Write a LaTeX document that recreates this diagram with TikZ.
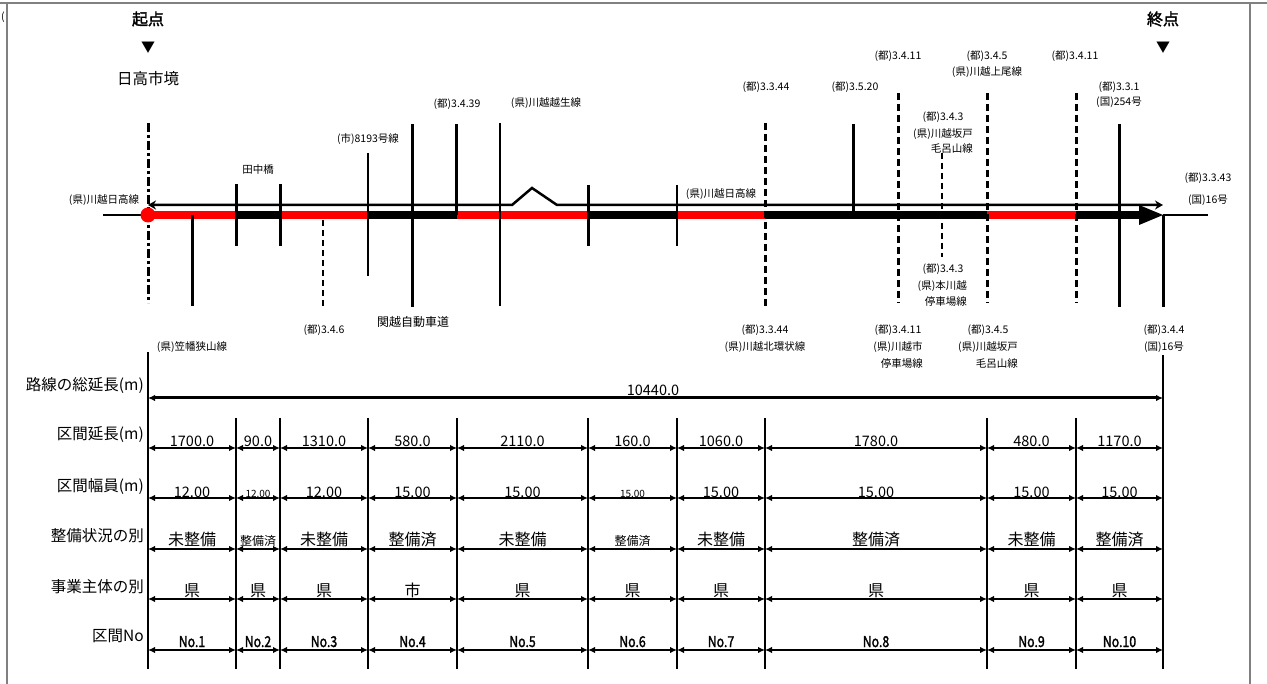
\documentclass[tikz,border=0pt]{standalone}
\usepackage{fontspec}
\usepackage{graphicx}
\setmainfont{Noto Sans CJK JP}[AutoFakeBold=2]
\usetikzlibrary{positioning, calc, arrows.meta}
\newcommand\smallnum{\fontsize{10}{12}\selectfont}
\newcommand\smallword{\fontsize{12}{14}\selectfont}
\newcommand\secno[1]{\scalebox{0.82}[1]{#1}}
\tikzset{
  > = {Latex[length = 7pt, width = 6.5pt]},
  framebox/.style = {draw = gray, line width = 1.2pt},
  lbl/.style = {inner sep = 0pt, font = \fontsize{10.5}{12}\selectfont},
  bigname/.style = {lbl, font = \fontsize{12}{14}\selectfont},
  head/.style = {inner sep = 0pt, font = \fontsize{15.5}{18}\selectfont},
  headbold/.style = {inner sep = 0pt, font = \bfseries\fontsize{16}{18}\selectfont},
  tri/.style = {inner sep = 0pt, font = \fontsize{14}{16}\selectfont},
  rowname/.style = {inner sep = 0pt, anchor = base east, font = \fontsize{15.5}{18}\selectfont},
  val/.style = {inner sep = 0pt, anchor = base, font = \fontsize{14.5}{16}\selectfont},
  word/.style = {val, font = \fontsize{16}{18}\selectfont},
  secnum/.style = {val, font = \bfseries\fontsize{15}{17}\selectfont},
  thinroad/.style = {line width = 2.5pt, {Stealth[length = 8pt, width = 9pt]}-{Stealth[length = 8pt, width = 9pt]}},
  bar/.style = {line width = 8pt},
  stub/.style = {line width = 1.5pt},
  road/.style = {line width = 3pt},
  minor/.style = {line width = 2pt},
  plan/.style = {line width = 3pt, dash pattern = on 7pt off 4pt},
  planminor/.style = {line width = 2pt, dash pattern = on 6pt off 4pt},
  edgeline/.style = {line width = 3pt, dash pattern = on 9pt off 3pt on 3pt off 3pt},
  sectline/.style = {line width = 2.5pt},
  dimline/.style = {<->, line width = 2pt},
  dimtot/.style = {<->, line width = 3pt}
}

\begin{document}
\begin{tikzpicture}[x = 1pt, y = -1pt]

%% Frame
\useasboundingbox (0,0) rectangle (1267,684);
\draw [framebox] (0,3) -- (1267,3);
\draw [framebox] (7,3) -- (7,684);
\draw [framebox] (1250,3) -- (1250,684);
\node [lbl] (paren) at (3,17) {(};

%% Start and end
\node [headbold] (start) at (148,19) {起点};
\node [tri] (startmk) at (148,48) {▼};
\node [head] (startname) at (148,79) {日高市境};
\node [headbold] (goal) at (1163,19) {終点};
\node [tri] (goalmk) at (1163,48) {▼};

%% Section boundaries
\foreach \x [count = \i from 0] in {148,236,280,368,457,588,677,765,987,1076,1163}
  \coordinate (b\i) at (\x,0);
\coordinate (ya) at (0,205);
\coordinate (yb) at (0,215);

%% Road bar
\foreach \i/\j/\c in {0/1/red, 1/2/black, 2/3/red, 3/4/black, 4/5/red,
                      5/6/black, 6/7/red, 7/8/black, 8/9/red}
  \draw [bar, \c] (b\i |- yb) -- (b\j |- yb);
\coordinate (hd) at (1139,215);
\draw [bar] (b9 |- yb) -- (hd);
\fill ($(hd)+(0,-10)$) -- (b10 |- yb) -- ($(hd)+(0,10)$) -- cycle;

%% Outer ends
\coordinate (wend) at (103,215);
\coordinate (eend) at (1208,215);
\draw [stub] (wend) -- (b0 |- yb);
\draw [stub] (b10 |- yb) -- (eend);

%% Upper line with hump
\coordinate (h1) at (512,205);
\coordinate (h2) at (532,188);
\coordinate (h3) at (557,205);
\draw [thinroad] (b0 |- ya) -- (h1) -- (h2) -- (h3) -- (b10 |- ya);

%% Crossing roads
\foreach \x/\t/\b/\s [count = \i] in {
    148/123/303/edgeline, 192/215/306/road, 236/184/246/road, 280/184/246/road,
    323/220/307/planminor, 368/153/276/minor, 412/124/307/road, 456/124/215/road,
    500/123/306/minor, 588/185/246/road, 677/185/246/minor, 765/123/306/plan,
    853/124/215/road, 898/93/303/plan, 942/153/257/planminor, 987/93/303/plan,
    1076/93/303/plan, 1119/124/307/road, 1163/215/307/road}
{
  \coordinate (c\i-t) at (\x,\t);
  \coordinate (c\i-b) at (\x,\b);
  \draw [\s] (c\i-t) -- (c\i-b);
}
\fill [red] (b0 |- yb) circle [radius = 7.5];

%% Road names, above
\node [lbl] (nKH1) at (104,200) {(県)川越日高線};
\node [lbl] (nTanaka) at (258,170) {田中橋};
\node [lbl] (n8193) at (368,139) {(市)8193号線};
\node [lbl] (n3439) at (457,104) {(都)3.4.39};
\node [lbl] (nOgose) at (546,103) {(県)川越越生線};
\node [lbl] (nKH2) at (721,194) {(県)川越日高線};
\node [lbl] (n3344a) at (766,87) {(都)3.3.44};
\node [lbl] (n3520) at (855,87) {(都)3.5.20};
\node [lbl] (n3411a) at (898,56) {(都)3.4.11};
\node [lbl] (n345a) at (987,56) {(都)3.4.5};
\node [lbl] (nAgeo) [below = 5pt of n345a] {(県)川越上尾線};
\node [lbl] (n3411b) at (1075,56) {(都)3.4.11};
\node [lbl] (n331) at (1119,87) {(都)3.3.1};
\node [lbl] (n254) at (1119,102) {(国)254号};
\node [lbl] (n343a) at (943,117) {(都)3.4.3};
\node [lbl, anchor = east] (nSakado1) at (973,134) {(県)川越坂戸};
\node [lbl, anchor = east] (nMoro1) at (973,149) {毛呂山線};
\node [lbl] (n3343) at (1208,178) {(都)3.3.43};
\node [lbl] (n16a) at (1208,200) {(国)16号};

%% Road names, below
\node [lbl] (nKasa) at (192,347) {(県)笠幡狭山線};
\node [lbl] (n346) at (324,330) {(都)3.4.6};
\node [bigname] (nKanetsu) at (413,322) {関越自動車道};
\node [lbl] (n343b) at (943,269) {(都)3.4.3};
\node [lbl, anchor = east] (nHon) at (967,286) {(県)本川越};
\node [lbl, anchor = east] (nTei1) at (967,302) {停車場線};
\node [lbl] (n3344b) at (765,330) {(都)3.3.44};
\node [lbl] (nKita) at (765,347) {(県)川越北環状線};
\node [lbl] (n3411c) at (898,330) {(都)3.4.11};
\node [lbl] (nShi) at (898,347) {(県)川越市};
\node [lbl, anchor = east] (nTei2) at (923,364) {停車場線};
\node [lbl] (n345b) at (988,330) {(都)3.4.5};
\node [lbl] (nSakado2) at (988,347) {(県)川越坂戸};
\node [lbl, anchor = east] (nMoro2) at (1018,364) {毛呂山線};
\node [lbl] (n344) at (1164,330) {(都)3.4.4};
\node [lbl] (n16b) at (1164,347) {(国)16号};

%% Table frame
\coordinate (tabtop) at (0,418);
\coordinate (tabbot) at (0,669);
\coordinate (b0top) at (148,352);
\coordinate (b10top) at (1163,355);
\draw [sectline] (b0top) -- (b0 |- tabbot);
\draw [sectline] (b10top) -- (b10 |- tabbot);
\foreach \i in {1,...,9}
  \draw [sectline] (b\i |- tabtop) -- (b\i |- tabbot);

%% Row names
\node [rowname] (hTotal) at (144,391) {路線の総延長(m)};
\node [rowname] (hLen) at (144,440) {区間延長(m)};
\node [rowname] (hWid) at (144,491) {区間幅員(m)};
\node [rowname] (hState) at (144,541) {整備状況の別};
\node [rowname] (hBody) at (144,592) {事業主体の別};
\node [rowname] (hNo) at (144,641) {区間No};

%% Rows
\coordinate (rT) at (0,398);
\foreach \y [count = \r] in {448,498,549,599,650}
  \coordinate (r\r) at (0,\y);
\foreach \y [count = \r] in {447,497,545,596,647}
  \coordinate (v\r) at (0,\y);

\draw [dimtot] (b0 |- rT) -- (b10 |- rT);
\node [val] (total) at (653,396) {10440.0};

\foreach \i/\j/\len/\wid/\st/\who [count = \n] in {
    0/1/1700.0/12.00/未整備/県,
    1/2/90.0/{\smallnum 12.00}/{\smallword 整備済}/県,
    2/3/1310.0/12.00/未整備/県,
    3/4/580.0/15.00/整備済/市,
    4/5/2110.0/15.00/未整備/県,
    5/6/160.0/{\smallnum 15.00}/{\smallword 整備済}/県,
    6/7/1060.0/15.00/未整備/県,
    7/8/1780.0/15.00/整備済/県,
    8/9/480.0/15.00/未整備/県,
    9/10/1170.0/15.00/整備済/県}
{
  \foreach \r in {1,...,5}
    \draw [dimline] (b\i |- r\r) -- (b\j |- r\r);
  \node [val] (len\n) at ($(b\i |- v1)!0.5!(b\j |- v1)$) {\len};
  \node [val] (wid\n) at ($(b\i |- v2)!0.5!(b\j |- v2)$) {\wid};
  \node [word] (st\n) at ($(b\i |- v3)!0.5!(b\j |- v3)$) {\st};
  \node [word] (who\n) at ($(b\i |- v4)!0.5!(b\j |- v4)$) {\who};
  \node [secnum] (no\n) at ($(b\i |- v5)!0.5!(b\j |- v5)$) {\secno{No.\n}};
}

\end{tikzpicture}
\end{document}
